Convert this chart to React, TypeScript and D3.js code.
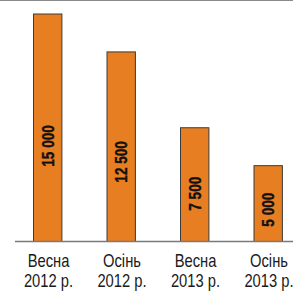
import { scaleBand, scaleLinear } from "d3";

const categories = ["Весна|2012 р.", "Осінь|2012 р.", "Весна|2013 р.", "Осінь|2013 р."];
const values = [15000, 12500, 7500, 5000];
const valueLabels = ["15 000", "12 500", "7 500", "5 000"];

const width = 293;
const height = 293;
const baseY = 241.5;

// no narrow font installed, so squeeze Liberation Sans horizontally
const font = "'Liberation Sans', Arial, sans-serif";
const squeeze = 0.82;

const App = () => {
  const x = scaleBand()
    .domain(categories)
    .range([10.95, 304.95])
    .paddingInner(0.6)
    .paddingOuter(0.3);

  const y = scaleLinear().domain([0, 15000]).range([baseY, 14]);

  return (
    <svg
      width={width}
      height={height}
      style={{ position: "fixed", left: 0, top: 0, background: "#fff" }}
    >
      <line x1={0} x2={width} y1={0.5} y2={0.5} stroke="#8a8a8a" strokeWidth={1.2} />
      {values.map((v, i) => {
        const cx = x(categories[i])! + x.bandwidth() / 2;
        const ly = y(v * 0.42);
        return (
          <g key={i}>
            <rect
              x={x(categories[i])! + 0.5}
              y={y(v)}
              width={x.bandwidth() - 1}
              height={baseY - y(v)}
              fill="#E87E22"
              stroke="#3a3a3a"
              strokeWidth={1}
            />
            <text
              transform={`translate(${cx},${ly}) rotate(-90) scale(0.8,1)`}
              textAnchor="middle"
              dy="0.37em"
              fontFamily={font}
              fontWeight="bold"
              fontSize={17}
              fill="#111"
              stroke="#111"
              strokeWidth={0.4}
            >
              {valueLabels[i]}
            </text>
          </g>
        );
      })}
      <line x1={15} x2={width} y1={baseY} y2={baseY} stroke="#7a7a7a" strokeWidth={1.5} />
      {categories.map((c, i) => {
        const cx = x(c)! + x.bandwidth() / 2 + 0.8;
        const [l1, l2] = c.split("|");
        return (
          <text
            key={c}
            transform={`translate(${cx},0) scale(${squeeze},1)`}
            textAnchor="middle"
            fontFamily={font}
            fontSize={18}
            fill="#1a1a1a"
          >
            <tspan x={0} y={266.7}>{l1}</tspan>
            <tspan x={0} y={287.2}>{l2}</tspan>
          </text>
        );
      })}
    </svg>
  );
};

export default App;
